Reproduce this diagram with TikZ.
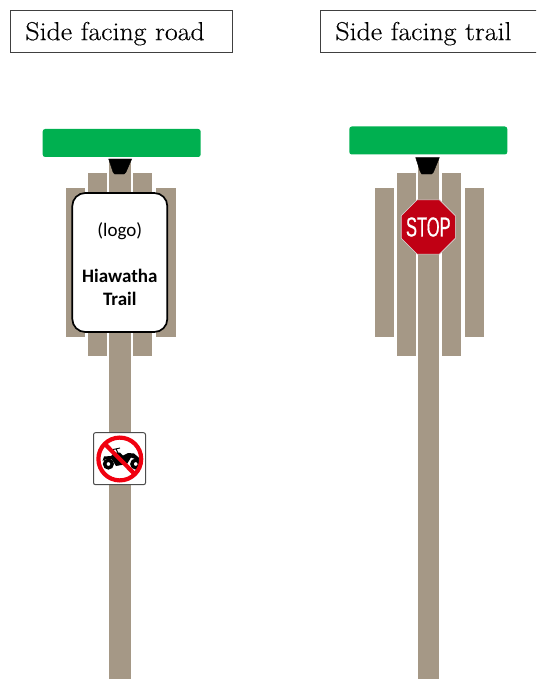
\documentclass[tikz,border=0pt]{standalone}
\usepackage{fontspec}
\setmainfont{Latin Modern Roman}
\newfontfamily\titlefont[FakeStretch=1.07,FakeBold=0.25]{Latin Modern Roman}
\newfontfamily\signfont{Carlito}
\newfontfamily\stopfont[FakeStretch=0.6,FakeBold=0.5]{Liberation Sans}
\definecolor{plankgray}{HTML}{A59886}
\definecolor{bargreen}{HTML}{00B050}
\definecolor{stopred}{HTML}{C00014}
\definecolor{banred}{HTML}{F0000F}
\usetikzlibrary{positioning,shapes.geometric}

\begin{document}
\begin{tikzpicture}[
  x=1pt, y=-1pt,
  sidebox/.style={draw=black!75, line width=0.9pt, fill=white, anchor=west, inner ysep=0pt, minimum height=42pt, font=\titlefont\fontsize{26}{28}\selectfont, text depth=0pt},
  plank/.style={draw=white, line width=0.6pt, fill=plankgray, inner sep=0pt, minimum width=20.4pt},
  pole/.style={plank, minimum width=22.6pt},
  bar/.style={fill=bargreen, rounded corners=2.5pt, inner sep=0pt, minimum width=158pt, minimum height=28pt},
  mount/.style={fill=black},
  logosign/.style={draw=black, line width=1.7pt, fill=white, rounded corners=13pt, inner sep=0pt, minimum width=95pt, minimum height=139pt, align=center, font=\signfont\fontsize{19}{23}\selectfont},
  stopsign/.style={regular polygon, regular polygon sides=8, draw=white!85!black, line width=0.6pt, fill=stopred, inner sep=0pt, minimum size=58.6pt},
  stoptext/.style={text=white, inner sep=0pt, font=\stopfont\fontsize{27.5}{30}\selectfont},
  atvsign/.style={draw=black!70, line width=1pt, fill=white, rounded corners=2pt, inner sep=0pt, minimum width=52pt, minimum height=52pt},
]
  \clip (0,0) rectangle (536,679);
  \node[sidebox, text width=192pt, inner xsep=15pt] (roadtitle) at (10,31) {Side facing road};
  \node[sidebox, text width=200pt, inner xsep=15pt] (trailtitle) at (320,31) {Side facing trail};

  \node[pole, minimum height=520pt] (roadpole) at (119.7,419) {};
  \node[plank, minimum height=183.4pt] (roadplanka) at (97.3,264.4) {};
  \node[plank, minimum height=183.4pt] (roadplankb) at (142.5,264.4) {};
  \node[plank, minimum height=149.6pt] (roadplankc) at (75.5,262.5) {};
  \node[plank, minimum height=149.6pt] (roadplankd) at (165.7,262.5) {};
  \node[bar] (roadbar) at (121.7,143) {};
  \draw[mount] (108.7,159) -- (113,172) -- (114.5,174) -- (124,174) -- (126,172) -- (131.7,159) -- cycle;
  \node[logosign] (roadsign) at (119.8,262.5) {\rule{0pt}{17pt}(logo)\\[23pt]\textbf{Hiawatha}\\\textbf{Trail}};

  \node[atvsign] (atvplate) at (119.5,458.7) {};
  \fill[black] (102.5,461) -- (104,456.5) -- (111,456) -- (114.5,452.5) -- (120,452.5) -- (123,455.5) -- (128,453) -- (134,453.5) -- (140.5,459) -- (138,460) -- (131,457.5) -- (127,464) -- (116,466) -- (112,459.5) -- (106,459) -- cycle;
  \draw[black, line width=0.9pt] (113,449.5) -- (120,448) (116,449) -- (118,453);
  \draw[black, line width=3.4pt, fill=white] (108.4,464) circle (3.8pt);
  \draw[black, line width=3.4pt, fill=white] (135.7,464) circle (3.8pt);
  \draw[banred, line width=4.2pt] (119.8,459) circle (21.4pt);
  \draw[banred, line width=4.2pt] (104.5,443.7) -- (135,474.3);

  \node[pole, minimum height=522pt] (trailpole) at (428.3,419) {};
  \node[plank, minimum height=183.4pt] (trailplanka) at (406.3,264.4) {};
  \node[plank, minimum height=183.4pt] (trailplankb) at (451.5,264.4) {};
  \node[plank, minimum height=149.6pt] (trailplankc) at (384.3,262.5) {};
  \node[plank, minimum height=149.6pt] (trailplankd) at (474.5,262.5) {};
  \node[bar] (trailbar) at (428.3,140.5) {};
  \draw[mount] (415.7,157.7) -- (420,171) -- (421.7,174) -- (431.5,174) -- (433.5,172) -- (439.3,157.7) -- cycle;
  \node[stopsign] (stop) at (428.3,227) {};
  \node[stoptext] (stoplabel) at (stop.center) {STOP};
\end{tikzpicture}
\end{document}
